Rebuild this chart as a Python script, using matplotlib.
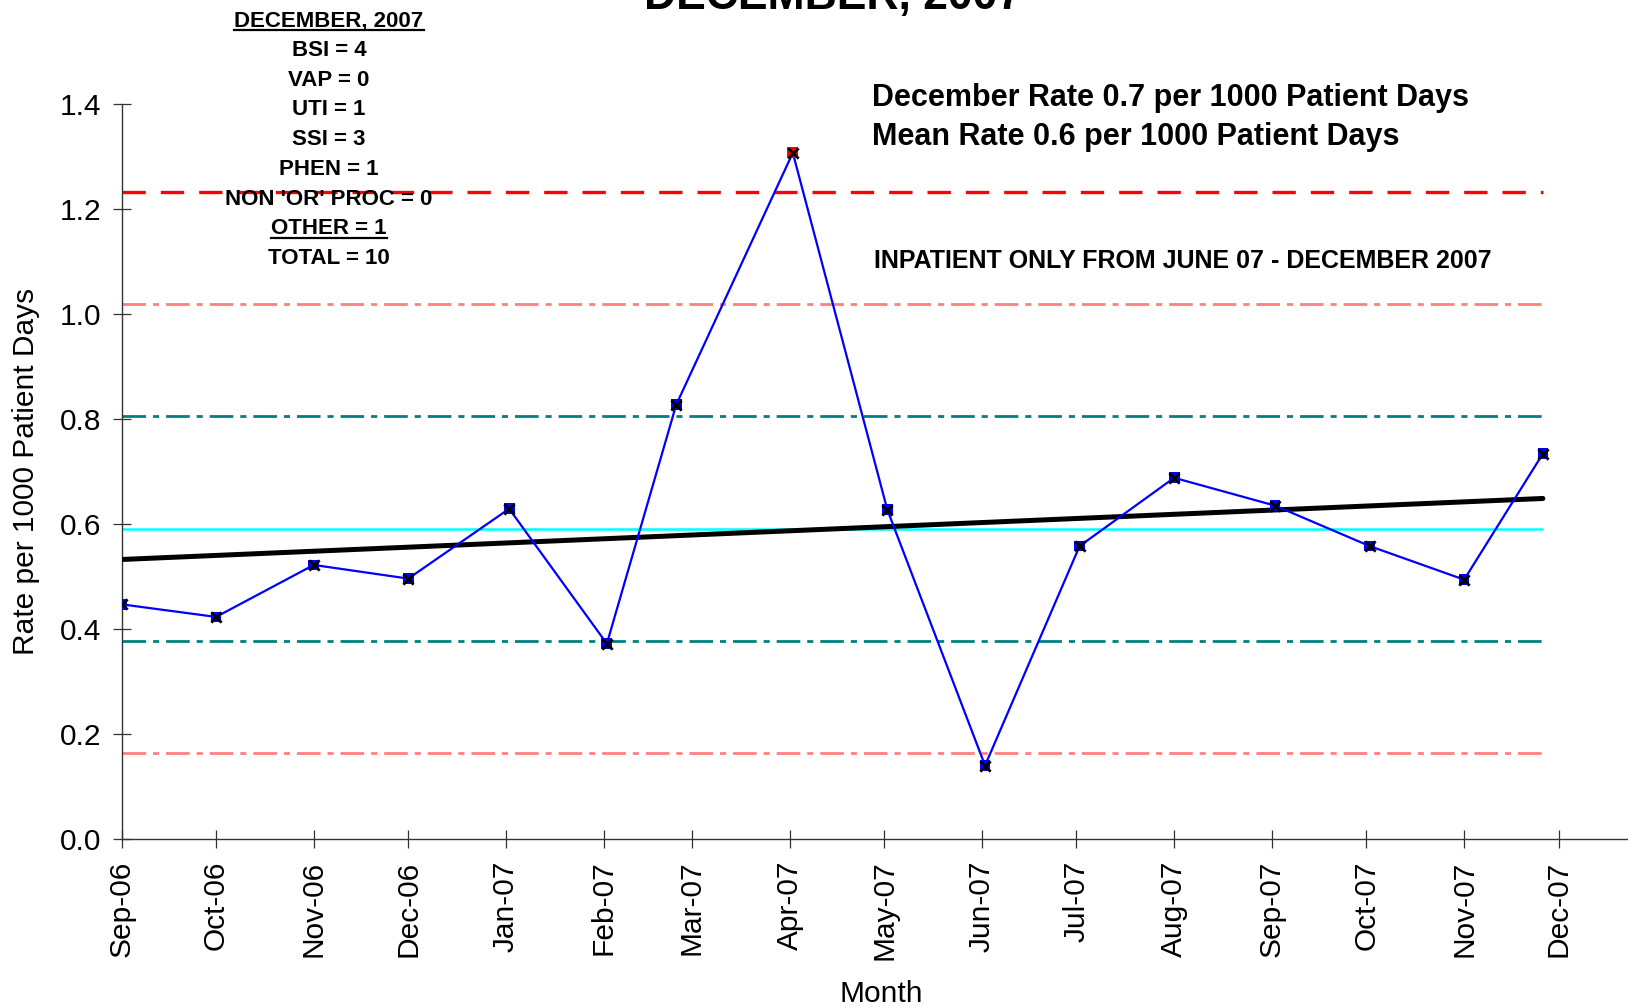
import numpy as np
import pandas as pd
import matplotlib
matplotlib.use("Agg")
import matplotlib.pyplot as plt
import matplotlib.dates as mdates
from matplotlib.lines import Line2D

# -----------------------------
# DATA
# -----------------------------
dates = ["2006-09-01", "2006-10-01", "2006-11-01", "2006-12-01",
         "2007-01-02", "2007-02-02", "2007-02-24", "2007-04-02",
         "2007-05-02", "2007-06-02", "2007-07-02", "2007-08-01",
         "2007-09-02", "2007-10-02", "2007-11-01", "2007-11-26"]
rates = [0.447, 0.423, 0.522, 0.496, 0.629, 0.372, 0.827, 1.307,
         0.627, 0.140, 0.558, 0.688, 0.635, 0.558, 0.494, 0.734]

mean_rate = 0.591
sigma = 0.214

box_lines = ["DECEMBER, 2007", "BSI = 4", "VAP = 0", "UTI = 1", "SSI = 3",
             "PHEN = 1", "NON 'OR' PROC = 0", "OTHER = 1", "TOTAL = 10"]
underlined = ["DECEMBER, 2007", "OTHER = 1"]

x = pd.to_datetime(dates)
xn = mdates.date2num(x)

plt.rcParams["font.family"] = ["Liberation Sans", "DejaVu Sans"]

W, H = 1628, 1008
fig = plt.figure(figsize=(W / 100, H / 100), dpi=100)
ax = fig.add_axes([121.5 / W, 169 / H, 1 - 121.5 / W, (839 - 104) / H])

# -----------------------------
# CONTROL LINES
# -----------------------------
x0, x1 = xn[0], xn[-1]
ax.hlines(mean_rate, x0, x1, color="#00FFFF", lw=1.8, zorder=2)
for k, col in [(1, "#008080"), (2, "#FF8080")]:
    for s in (1, -1):
        ln = ax.hlines(mean_rate + s * k * sigma, x0, x1, color=col, lw=2.0, zorder=2)
        ln.set_linestyle((0, (8.5, 2.5, 2.2, 2.5)))
ucl = mean_rate + 3 * sigma
ax.hlines(ucl, x0, x1, color="#FF0000", lw=2.4, linestyles=(0, (7, 4.5)), zorder=2)

# trend line
coef = np.polyfit(xn, rates, 1)
ax.plot([x0, x1], np.polyval(coef, [x0, x1]), color="black", lw=3.6,
        solid_capstyle="round", zorder=3)

# data
ax.plot(xn, rates, color="#0000FF", lw=1.6, zorder=4)
face = ["#FF0000" if r > ucl else "#0000FF" for r in rates]
ax.scatter(xn, rates, marker="s", s=60, c=face, edgecolors="none", zorder=5)
ax.scatter(xn, rates, marker="x", s=55, c="black", linewidths=2, zorder=6)

# -----------------------------
# AXES
# -----------------------------
ax.set_ylim(0, 1.4)
ax.set_yticks(np.arange(0, 1.41, 0.2))
ax.yaxis.set_major_formatter(matplotlib.ticker.FormatStrFormatter("%.1f"))
ax.set_xlim(mdates.date2num(pd.Timestamp("2006-09-01")),
            mdates.date2num(pd.Timestamp("2007-12-23")))
ax.xaxis.set_major_locator(mdates.MonthLocator())
ax.xaxis.set_major_formatter(mdates.DateFormatter("%b-%y"))
for sp in ("top", "right"):
    ax.spines[sp].set_visible(False)
for sp in ("left", "bottom"):
    ax.spines[sp].set_color("#333333")
    ax.spines[sp].set_linewidth(1.0)
ax.tick_params(axis="both", direction="inout", length=13, width=0.9,
               color="#333333", labelsize=21.5)
ax.tick_params(axis="y", pad=8)
ax.tick_params(axis="x", pad=9, labelrotation=90)
ax.set_xlabel("Month", fontsize=21.5, labelpad=14)
ax.xaxis.label.set_x(0.5045)
ax.set_ylabel("Rate per 1000 Patient Days", fontsize=21.5, labelpad=14)

# -----------------------------
# TEXTS
# -----------------------------
def ftext(px, py, s, **kw):
    return fig.text(px / W, 1 - py / H, s, **kw)

ftext(833, 9, "DECEMBER, 2007", fontsize=32, fontweight="bold",
      ha="center", va="baseline")
ftext(872, 98, "December Rate 0.7 per 1000 Patient Days", fontsize=22,
      fontweight="bold", ha="left", va="center")
ftext(872, 137, "Mean Rate 0.6 per 1000 Patient Days", fontsize=22,
      fontweight="bold", ha="left", va="center")
ftext(874, 261, "INPATIENT ONLY FROM JUNE 07 - DECEMBER 2007", fontsize=18,
      fontweight="bold", ha="left", va="center")

box_y = [18, 48, 78, 107, 137, 167, 197, 226, 256]
texts = []
for s, yy in zip(box_lines, box_y):
    t = ftext(329, yy + 8, s, fontsize=16, fontweight="bold",
              ha="center", va="baseline")
    texts.append((s, t, yy + 8))

fig.canvas.draw()
r = fig.canvas.get_renderer()
for s, t, yb in texts:
    if s in underlined:
        bb = t.get_window_extent(r)
        yl = 1 - (yb + 4) / H
        fig.add_artist(Line2D([bb.x0 / W, bb.x1 / W], [yl, yl],
                              transform=fig.transFigure, color="black", lw=1.6))

fig.savefig("out.png", dpi=100)
